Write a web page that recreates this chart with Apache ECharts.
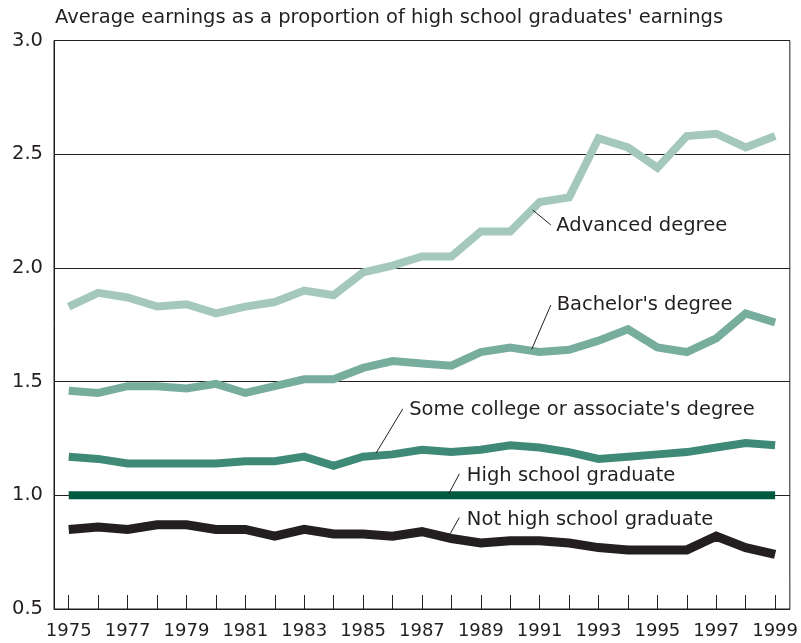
<!DOCTYPE html>
<html>
<head>
<meta charset="utf-8">
<script src="https://cdn.jsdelivr.net/npm/echarts@6/dist/echarts.min.js"></script>
<style>html,body{margin:0;padding:0;background:#fff}#c{width:801px;height:643px}</style>
</head>
<body>
<div id="c"></div>
<script>
const years = ['1975','1976','1977','1978','1979','1980','1981','1982','1983','1984','1985','1986','1987','1988','1989','1990','1991','1992','1993','1994','1995','1996','1997','1998','1999'];
const advanced = [1.83,1.89,1.87,1.83,1.84,1.80,1.83,1.85,1.90,1.88,1.98,2.01,2.05,2.05,2.16,2.16,2.29,2.31,2.57,2.53,2.44,2.58,2.59,2.53,2.58];
const bachelors = [1.46,1.45,1.48,1.48,1.47,1.49,1.45,1.48,1.51,1.51,1.56,1.59,1.58,1.57,1.63,1.65,1.63,1.64,1.68,1.73,1.65,1.63,1.69,1.80,1.76];
const someCollege = [1.17,1.16,1.14,1.14,1.14,1.14,1.15,1.15,1.17,1.13,1.17,1.18,1.20,1.19,1.20,1.22,1.21,1.19,1.16,1.17,1.18,1.19,1.21,1.23,1.22];
const highSchool = [1.00,1.00,1.00,1.00,1.00,1.00,1.00,1.00,1.00,1.00,1.00,1.00,1.00,1.00,1.00,1.00,1.00,1.00,1.00,1.00,1.00,1.00,1.00,1.00,1.00];
const notHighSchool = [0.85,0.86,0.85,0.87,0.87,0.85,0.85,0.82,0.85,0.83,0.83,0.82,0.84,0.81,0.79,0.80,0.80,0.79,0.77,0.76,0.76,0.76,0.82,0.77,0.74];
const yTicks = [0.5,1.0,1.5,2.0,2.5,3.0];
const seriesNames = ['Advanced degree',"Bachelor's degree","Some college or associate's degree",'High school graduate','Not high school graduate'];
const titleText = "Average earnings as a proportion of high school graduates' earnings";

// annotation anchors, in data units (year, ratio)
const labelAnchors = [[1991.55,2.184],[1991.56,1.838],[1986.55,1.375],[1988.51,1.085],[1988.51,0.891]];
const leaderLines = [
  [[1990.76,2.255],[1991.38,2.189]],
  [[1991.38,1.837],[1990.73,1.642]],
  [[1986.35,1.380],[1985.44,1.185]],
  [[1988.27,1.094],[1987.91,1.006]],
  [[1988.27,0.902],[1987.96,0.831]]
];

const ink = '#231f20';
const FONT = 'DejaVu Sans';
const colors = ['#a4c8bc','#77ad9c','#3f8a77','#005a40','#231f20'];
const values = [advanced,bachelors,someCollege,highSchool,notHighSchool];

const series = [];
values.forEach((v,i)=>{
  series.push({
    name: seriesNames[i], type:'line', data:v, symbol:'none', silent:true,
    lineStyle:{color:colors[i], width: i===4 ? 9 : 8, join:'miter'},
    z: 3
  });
});
leaderLines.forEach(l=>{
  series.push({type:'line', xAxisIndex:1, data:l, symbol:'none', silent:true,
    lineStyle:{color:ink, width:1}, z:4});
});
series.push({
  type:'scatter', xAxisIndex:1, silent:true, symbolSize:1,
  itemStyle:{color:'transparent', opacity:1},
  data: labelAnchors.map((p,i)=>({value:p, label:{formatter:seriesNames[i]}})),
  label:{show:true, position:'right', distance:0, color:ink, fontFamily:FONT, fontSize:19.5},
  z:5
});

const chart = echarts.init(document.getElementById('c'), null, {renderer:'canvas'});
chart.setOption({
  animation:false,
  backgroundColor:'#fff',
  title:{text:titleText, left:55, top:8, padding:0, textStyle:{fontFamily:FONT, fontSize:19.5, fontWeight:'normal', color:ink}},
  grid:{left:54, right:10, top:40.5, bottom:34, show:true, borderColor:ink, borderWidth:1},
  xAxis:[{
    type:'category', data:years, boundaryGap:true,
    axisLine:{lineStyle:{color:ink, width:1}},
    axisTick:{show:true, inside:true, length:14, alignWithLabel:true, interval:0, lineStyle:{color:ink}},
    axisLabel:{interval:1, color:ink, fontFamily:FONT, fontSize:18, margin:13},
    splitLine:{show:false}
  },{
    type:'value', min:1974.5, max:1999.5, show:false
  }],
  yAxis:{
    type:'value', min:yTicks[0], max:yTicks[yTicks.length-1], interval:0.5,
    axisLine:{show:true, lineStyle:{color:ink}},
    axisTick:{show:false},
    axisLabel:{color:ink, fontFamily:FONT, fontSize:19.5, margin:11, formatter:v=>v.toFixed(1)},
    splitLine:{show:true, lineStyle:{color:ink, width:1}}
  },
  series
});
</script>
</body>
</html>
